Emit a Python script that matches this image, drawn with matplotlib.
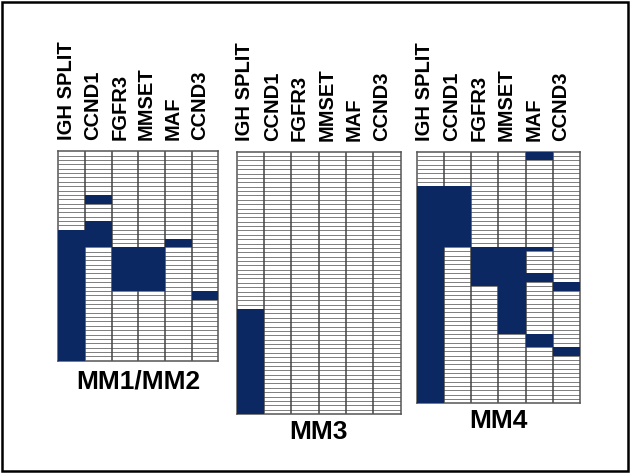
import matplotlib
matplotlib.use('Agg')
import matplotlib.pyplot as plt
from matplotlib.patches import Rectangle
import numpy as np

plt.rcParams['font.family'] = ['Liberation Sans', 'DejaVu Sans']

# Genes (columns) for every panel
genes = ['IGH SPLIT', 'CCND1', 'FGFR3', 'MMSET', 'MAF', 'CCND3']

# Rows are in half-sample units, fills are (column, first row, end row)
mm12_rows = 48
mm12_fills = [(0, 18, 48), (1, 10, 12), (1, 16, 22), (2, 22, 32),
              (3, 22, 32), (4, 20, 22), (5, 32, 34)]

mm3_rows = 60
mm3_fills = [(0, 36, 60)]

mm4_rows = 58
mm4_fills = [(0, 8, 58), (1, 8, 22), (2, 22, 31), (3, 22, 42),
             (4, 0, 2), (4, 22, 23), (4, 28, 30), (4, 42, 45),
             (5, 30, 32), (5, 45, 47)]

navy = '#0b2862'

W, H = 631, 474
fig = plt.figure(figsize=(W / 100, H / 100), dpi=100)


def panel(box, nrows, fills, title, title_pad):
    # box in pixels: left, top, right, bottom
    l, t, r, b = box
    ax = fig.add_axes([l / W, 1 - b / H, (r - l) / W, (b - t) / H])
    ax.set_xlim(0, len(genes))
    ax.set_ylim(nrows, 0)

    for c, s, e in fills:
        ax.bar(c, e - s, bottom=s, width=1, align='edge', color=navy,
               edgecolor='none', zorder=3)

    ax.hlines(np.arange(1, nrows), 0, len(genes), color='#7d7d7d',
              lw=0.7, zorder=2)
    ax.vlines(np.arange(1, len(genes)), 0, nrows, color='#444444',
              lw=1.1, zorder=2)
    for sp in ax.spines.values():
        sp.set_color('#555555')
        sp.set_linewidth(1.1)

    ax.xaxis.tick_top()
    ax.set_xticks(np.arange(len(genes)) + 0.3)
    ax.set_xticklabels(genes, rotation=90, fontsize=14.5, fontweight='bold',
                       va='bottom', ha='center')
    ax.tick_params(axis='x', length=0, pad=8)
    ax.set_yticks([])
    ax.xaxis.set_label_position('bottom')
    ax.set_xlabel(title, fontsize=19, fontweight='bold', labelpad=title_pad)
    return ax


panel((58.3, 151.3, 218.3, 360.7), mm12_rows, mm12_fills, 'MM1/MM2', 6)
panel((236.7, 151.7, 400.7, 414.0), mm3_rows, mm3_fills, 'MM3', 4)
panel((416.7, 151.7, 580.0, 403.3), mm4_rows, mm4_fills, 'MM4', 4)

# outer frame
fig.add_artist(Rectangle((2 / W, 3 / H), 626 / W, 469 / H, transform=fig.transFigure,
                         fill=False, lw=1.8, edgecolor='black'))

fig.savefig('out.png', dpi=100)
